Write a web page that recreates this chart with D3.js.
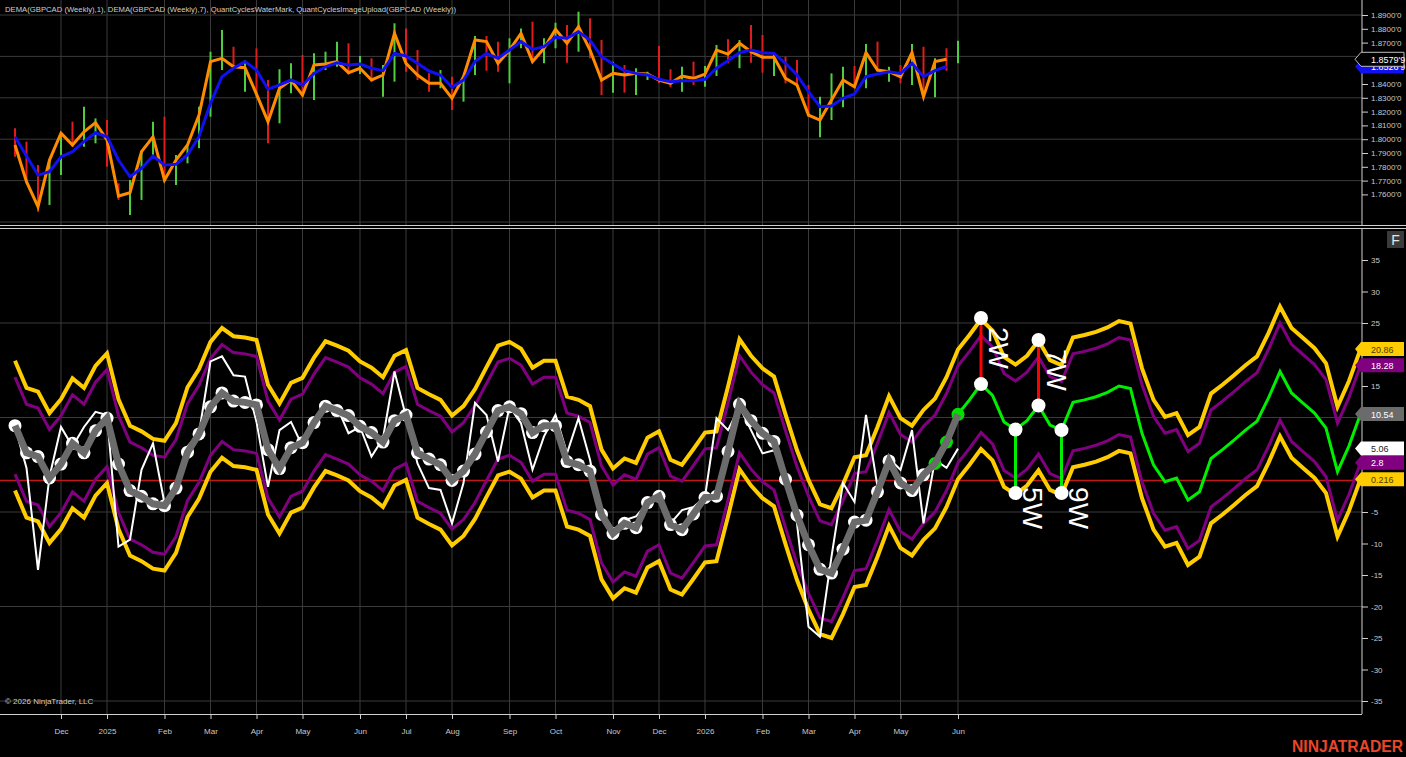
<!DOCTYPE html>
<html lang="en">
<head>
<meta charset="UTF-8">
<title>GBPCAD Weekly - QuantCycles</title>
<style>
  body { margin: 0; background: #000; }
  svg { display: block; font-family: "Liberation Sans", Arial, sans-serif; }
</style>
<script src="https://d3js.org/d3.v7.min.js"></script>
</head>
<body>
<svg width="1406" height="757"></svg>
<script>
// ---- x axis (weekly bars, index based) ----
const monthIdx = [4, 8, 13, 17, 21, 25, 30, 34, 38, 43, 47, 52, 56, 60, 65, 69, 73, 77, 82];
const monthLabels = ["Dec", "2025", "Feb", "Mar", "Apr", "May", "Jun", "Jul", "Aug", "Sep", "Oct", "Nov", "Dec", "2026", "Feb", "Mar", "Apr", "May", "Jun"];

// ---- price panel ----
const priceTicks = [1.89, 1.88, 1.87, 1.86, 1.85, 1.84, 1.83, 1.82, 1.81, 1.80, 1.79, 1.78, 1.77, 1.76];
const priceGrid = [1.89, 1.86, 1.83, 1.80, 1.77, 1.74];

const highs = [1.8079, 1.7982, 1.7813, 1.7849, 1.8043, 1.8127, 1.8236, 1.8151, 1.8139, 1.7680,
  1.7704, 1.7910, 1.8127, 1.8163, 1.7885, 1.7958, 1.8236, 1.8634, 1.8791, 1.8670,
  1.8574, 1.8658, 1.8429, 1.8507, 1.8550, 1.8610, 1.8622, 1.8634, 1.8707, 1.8695,
  1.8603, 1.8586, 1.8538, 1.8840, 1.8803, 1.8646, 1.8477, 1.8501, 1.8453, 1.8460,
  1.8748, 1.8748, 1.8707, 1.8731, 1.8803, 1.8851, 1.8731, 1.8844, 1.8828, 1.8924,
  1.8876, 1.8719, 1.8562, 1.8538, 1.8514, 1.8489, 1.8675, 1.8507, 1.8525, 1.8562,
  1.8530, 1.8683, 1.8724, 1.8719, 1.8828, 1.8755, 1.8622, 1.8598, 1.8574, 1.8393,
  1.8308, 1.8477, 1.8525, 1.8530, 1.8690, 1.8707, 1.8525, 1.8538, 1.8690, 1.8670,
  1.8586, 1.8659, 1.8714];
const lows = [1.7873, 1.7680, 1.7475, 1.7523, 1.7740, 1.7946, 1.7946, 1.7970, 1.7801, 1.7560,
  1.7450, 1.7560, 1.7885, 1.7690, 1.7668, 1.7825, 1.7934, 1.8163, 1.8501, 1.8525,
  1.8344, 1.8300, 1.7970, 1.8115, 1.8333, 1.8308, 1.8284, 1.8501, 1.8525, 1.8470,
  1.8472, 1.8417, 1.8308, 1.8417, 1.8489, 1.8429, 1.8344, 1.8369, 1.8212, 1.8272,
  1.8465, 1.8496, 1.8489, 1.8405, 1.8659, 1.8562, 1.8550, 1.8659, 1.8554, 1.8634,
  1.8586, 1.8320, 1.8337, 1.8337, 1.8320, 1.8429, 1.8405, 1.8376, 1.8344, 1.8393,
  1.8380, 1.8458, 1.8550, 1.8514, 1.8554, 1.8482, 1.8458, 1.8405, 1.8376, 1.8160,
  1.8014, 1.8139, 1.8231, 1.8376, 1.8369, 1.8489, 1.8417, 1.8405, 1.8393, 1.8308,
  1.8304, 1.8496, 1.8550];
// U = up bar (green), d = down bar (red)
const barDir = ("dddUUdUUdd" + "UUUdUUUUUd" + "UddUUdUUUd" + "UdUUdddUdU" + "UddUUdUUdU" +
  "ddUdUUddUd" + "UUdUddUddd" + "UUUdUdUdUd" + "UdU").split("");
const dema1 = [1.7958, 1.7692, 1.7511, 1.7849, 1.8043, 1.7958, 1.8054, 1.8120, 1.7994, 1.7588,
  1.7612, 1.7910, 1.8018, 1.7704, 1.7849, 1.7958, 1.8175, 1.8562, 1.8586, 1.8525,
  1.8518, 1.8326, 1.8127, 1.8369, 1.8429, 1.8320, 1.8538, 1.8545, 1.8562, 1.8482,
  1.8514, 1.8429, 1.8465, 1.8767, 1.8550, 1.8465, 1.8405, 1.8405, 1.8296, 1.8453,
  1.8719, 1.8707, 1.8550, 1.8646, 1.8767, 1.8562, 1.8659, 1.8796, 1.8695, 1.8815,
  1.8646, 1.8429, 1.8477, 1.8465, 1.8477, 1.8472, 1.8429, 1.8405, 1.8458, 1.8441,
  1.8472, 1.8646, 1.8617, 1.8695, 1.8634, 1.8593, 1.8593, 1.8441, 1.8393, 1.8175,
  1.8139, 1.8284, 1.8429, 1.8380, 1.8627, 1.8501, 1.8489, 1.8453, 1.8627, 1.8308,
  1.8562, 1.8579];
const dema7 = [1.8018, 1.7878, 1.7740, 1.7765, 1.7873, 1.7910, 1.7982, 1.8047, 1.8018, 1.7849,
  1.7728, 1.7789, 1.7878, 1.7813, 1.7818, 1.7886, 1.8018, 1.8260, 1.8453, 1.8514,
  1.8562, 1.8501, 1.8362, 1.8393, 1.8429, 1.8393, 1.8477, 1.8525, 1.8554, 1.8538,
  1.8545, 1.8514, 1.8497, 1.8622, 1.8603, 1.8550, 1.8494, 1.8465, 1.8376, 1.8429,
  1.8562, 1.8622, 1.8586, 1.8646, 1.8707, 1.8651, 1.8670, 1.8738, 1.8731, 1.8779,
  1.8719, 1.8598, 1.8545, 1.8497, 1.8477, 1.8465, 1.8434, 1.8417, 1.8424, 1.8424,
  1.8434, 1.8514, 1.8569, 1.8627, 1.8646, 1.8627, 1.8622, 1.8550, 1.8465, 1.8344,
  1.8236, 1.8241, 1.8296, 1.8328, 1.8453, 1.8472, 1.8489, 1.8477, 1.8550, 1.8453,
  1.8497, 1.8527];
const lastClose = { value: 1.8579, label: "1.8579'9" };
const lastDema7 = { value: 1.8527, label: "1.8526'9" };

// ---- cycle panel ----
const oscTicks = [35, 30, 25, 20, 15, 10, 5, 0, -5, -10, -15, -20, -25, -30, -35];
const oscGrid = [25, 10, -5, -20, -35];

// raw cycle (white)
const rawCycle = [8.5, 2.0, -14.2, 0.6, 8.5, 5.4, 8.5, 10.9, 10.4, -10.5,
  -9.4, 1.7, 5.9, -3.6, -1.5, 5.4, 7.5, 18.9, 19.7, 16.7,
  16.5, 9.3, -1.0, 8.0, 9.3, 5.4, 8.8, 12.3, 11.7, 7.5,
  8.5, 3.8, 6.7, 17.3, 10.1, 2.7, -1.2, -1.5, -6.8, -0.4,
  12.3, 10.4, 3.0, 11.7, 9.1, 1.7, 7.0, 10.4, 4.3, 9.9,
  3.3, -5.7, -7.9, -6.3, -5.7, -3.6, -2.6, -6.8, -4.7, -4.2,
  -2.6, 9.9, 8.0, 11.7, 8.0, 4.3, 4.8, 0.6, -6.8, -23.2,
  -24.8, -12.1, -0.4, -3.4, 10.4, -1.0, 3.5, 1.7, 8.0, -6.8,
  3.25, 2.0, 5.06];

// smoothed cycle (grey history, green projection from bar 80)
const cycleLine = [8.7, 4.4, 3.8, 0.4, 2.6, 5.9, 4.4, 7.9, 9.9, 2.6,
  -1.6, -2.5, -3.7, -4.0, -1.2, 4.5, 7.4, 11.7, 13.9, 12.6,
  12.4, 12.0, 4.9, 1.9, 5.2, 6.0, 9.2, 11.8, 11.1, 10.3,
  8.6, 7.6, 6.1, 9.5, 10.4, 4.4, 3.4, 2.5, 0.0, 1.5,
  4.2, 7.7, 11.1, 11.7, 10.6, 7.6, 8.7, 8.7, 3.0, 2.5,
  1.5, -5.4, -8.4, -6.8, -7.5, -3.5, -2.5, -7.0, -7.8, -5.3,
  -2.7, -2.5, 4.6, 12.1, 9.5, 7.5, 6.2, 0.2, -5.5, -10.2,
  -14.1, -14.7, -10.9, -6.6, -6.3, -1.8, 3.1, -0.4, -1.6, 0.9,
  2.7, 6.1, 10.5, 12.8, 15.3, 13.5, 9.3, 8.1, 9.5, 11.9,
  8.8, 8.0, 12.4, 12.8, 13.3, 14.0, 15.0, 14.6, 7.5, 2.5,
  -0.2, 0.4, -3.1, -1.8, 3.5, 4.9, 6.4, 8.0, 9.4, 13.1,
  17.3, 13.9, 12.3, 10.7, 8.3, 1.4, 5.5, 10.54];
const historyEnd = 82;
const projectionStart = 80;

const outerUpper = [19.0, 14.7, 14.1, 10.7, 12.9, 16.2, 14.7, 18.2, 20.2, 12.9,
  8.7, 7.8, 6.6, 6.3, 9.1, 14.8, 17.7, 22.0, 24.2, 22.9,
  22.7, 22.3, 15.2, 12.2, 15.5, 16.3, 19.5, 22.1, 21.4, 20.6,
  18.9, 17.9, 16.4, 19.8, 20.7, 14.7, 13.7, 12.8, 10.3, 11.8,
  14.5, 18.0, 21.4, 22.0, 20.9, 17.9, 19.0, 19.0, 13.3, 12.8,
  11.8, 4.9, 1.9, 3.5, 2.8, 6.8, 7.8, 3.3, 2.5, 5.0,
  7.6, 7.8, 14.9, 22.4, 19.8, 17.8, 16.5, 10.5, 4.8, 0.1,
  -3.8, -4.4, -0.6, 3.7, 4.0, 8.5, 13.4, 9.9, 8.7, 11.2,
  13.0, 16.4, 20.8, 23.1, 25.6, 23.8, 19.6, 18.4, 19.8, 22.2,
  19.1, 18.3, 22.7, 23.1, 23.6, 24.3, 25.3, 24.9, 17.8, 12.8,
  10.1, 10.7, 7.2, 8.5, 13.8, 15.2, 16.7, 18.3, 19.7, 23.4,
  27.6, 24.2, 22.6, 21.0, 18.6, 11.7, 15.8, 20.86];
const innerUpper = [16.4, 12.1, 11.5, 8.1, 10.3, 13.6, 12.1, 15.6, 17.6, 10.3,
  6.1, 5.2, 4.0, 3.7, 6.5, 12.2, 15.1, 19.4, 21.6, 20.3,
  20.1, 19.7, 12.6, 9.6, 12.9, 13.7, 16.9, 19.5, 18.8, 18.0,
  16.3, 15.3, 13.8, 17.2, 18.1, 12.1, 11.1, 10.2, 7.7, 9.2,
  11.9, 15.4, 18.8, 19.4, 18.3, 15.3, 16.4, 16.4, 10.7, 10.2,
  9.2, 2.3, -0.7, 0.9, 0.2, 4.2, 5.2, 0.7, -0.1, 2.4,
  5.0, 5.2, 12.3, 19.8, 17.2, 15.2, 13.9, 7.9, 2.2, -2.5,
  -6.4, -7.0, -3.2, 1.1, 1.4, 5.9, 10.8, 7.3, 6.1, 8.6,
  10.4, 13.8, 18.2, 20.5, 23.0, 21.2, 17.0, 15.8, 17.2, 19.6,
  16.5, 15.7, 20.1, 20.5, 21.0, 21.7, 22.7, 22.3, 15.2, 10.2,
  7.5, 8.1, 4.6, 5.9, 11.2, 12.6, 14.1, 15.7, 17.1, 20.8,
  25.0, 21.6, 20.0, 18.4, 16.0, 9.1, 13.2, 18.28];
const innerLower = [1.0, -3.3, -3.9, -7.3, -5.1, -1.8, -3.3, 0.2, 2.2, -5.1,
  -9.3, -10.2, -11.4, -11.7, -8.9, -3.2, -0.3, 4.0, 6.2, 4.9,
  4.7, 4.3, -2.8, -5.8, -2.5, -1.7, 1.5, 4.1, 3.4, 2.6,
  0.9, -0.1, -1.6, 1.8, 2.7, -3.3, -4.3, -5.2, -7.7, -6.2,
  -3.5, 0.0, 3.4, 4.0, 2.9, -0.1, 1.0, 1.0, -4.7, -5.2,
  -6.2, -13.1, -16.1, -14.5, -15.2, -11.2, -10.2, -14.7, -15.5, -13.0,
  -10.4, -10.2, -3.1, 4.4, 1.8, -0.2, -1.5, -7.5, -13.2, -17.9,
  -21.8, -22.4, -18.6, -14.3, -14.0, -9.5, -4.6, -8.1, -9.3, -6.8,
  -5.0, -1.6, 2.8, 5.1, 7.6, 5.8, 1.6, 0.4, 1.8, 4.2,
  1.1, 0.3, 4.7, 5.1, 5.6, 6.3, 7.3, 6.9, -0.2, -5.2,
  -7.9, -7.3, -10.8, -9.5, -4.2, -2.8, -1.3, 0.3, 1.7, 5.4,
  9.6, 6.2, 4.6, 3.0, 0.6, -6.3, -2.2, 2.8];
const outerLower = [-1.6, -5.9, -6.5, -9.9, -7.7, -4.4, -5.9, -2.4, -0.4, -7.7,
  -11.9, -12.8, -14.0, -14.3, -11.5, -5.8, -2.9, 1.4, 3.6, 2.3,
  2.1, 1.7, -5.4, -8.4, -5.1, -4.3, -1.1, 1.5, 0.8, 0.0,
  -1.7, -2.7, -4.2, -0.8, 0.1, -5.9, -6.9, -7.8, -10.3, -8.8,
  -6.1, -2.6, 0.8, 1.4, 0.3, -2.7, -1.6, -1.6, -7.3, -7.8,
  -8.8, -15.7, -18.7, -17.1, -17.8, -13.8, -12.8, -17.3, -18.1, -15.6,
  -13.0, -12.8, -5.7, 1.8, -0.8, -2.8, -4.1, -10.1, -15.8, -20.5,
  -24.4, -25.0, -21.2, -16.9, -16.6, -12.1, -7.2, -10.7, -11.9, -9.4,
  -7.6, -4.2, 0.2, 2.5, 5.0, 3.2, -1.0, -2.2, -0.8, 1.6,
  -1.5, -2.3, 2.1, 2.5, 3.0, 3.7, 4.7, 4.3, -2.8, -7.8,
  -10.5, -9.9, -13.4, -12.1, -6.8, -5.4, -3.9, -2.3, -0.9, 2.8,
  7.0, 3.6, 2.0, 0.4, -2.0, -8.9, -4.8, 0.216];

// projected cycle turns
const cycleNames = ["2W", "7W", "5W", "9W"];
const cycleBars = [84, 89, 87, 91];
const cycleFrom = [25.8, 22.3, 8.1, 8.0];
const cycleTo = [15.3, 11.9, -2.0, -2.0];
const cycleKind = ["top", "top", "bottom", "bottom"];

// last-value markers on the right axis
const markerValues = [20.86, 18.28, 10.54, 5.06, 2.8, 0.216];
const markerLabels = ["20.86", "18.28", "10.54", "5.06", "2.8", "0.216"];
const markerFill = ["#ffcc00", "#800080", "#6b6b6b", "#ffffff", "#800080", "#ffcc00"];
const markerText = ["#4a3a00", "#ffffff", "#ffffff", "#222222", "#ffffff", "#4a3a00"];

// ---- layout ----
const W = 1406, axisX = 1362;
const panelTop = { y0: 0, y1: 225 }, panelBot = { y0: 229, y1: 714 };

const svg = d3.select("svg");
svg.append("rect").attr("width", W).attr("height", 757).attr("fill", "#000");

const x = d3.scaleLinear().domain([0, 117]).range([15, 1360.5]);
const yP = d3.scaleLinear().domain([1.89, 1.76]).range([15, 194.4]);
const yO = d3.scaleLinear().domain([35, -35]).range([260, 701]);

const defs = svg.append("defs");
defs.append("clipPath").attr("id", "clipTop").append("rect")
  .attr("x", 0).attr("y", panelTop.y0).attr("width", axisX).attr("height", panelTop.y1 - panelTop.y0);
defs.append("clipPath").attr("id", "clipBot").append("rect")
  .attr("x", 0).attr("y", panelBot.y0).attr("width", axisX).attr("height", panelBot.y1 - panelBot.y0);

const gridColor = "#3a3a3a";

// grids
const gTop = svg.append("g").attr("clip-path", "url(#clipTop)");
const gBot = svg.append("g").attr("clip-path", "url(#clipBot)");

[[gTop, panelTop], [gBot, panelBot]].forEach(([g, p]) => {
  g.selectAll("line.vgrid").data(monthIdx).enter().append("line")
    .attr("class", "vgrid")
    .attr("x1", d => x(d)).attr("x2", d => x(d))
    .attr("y1", p.y0).attr("y2", p.y1)
    .attr("stroke", gridColor).attr("stroke-width", 1);
});
gTop.selectAll("line.hgrid").data(priceGrid).enter().append("line")
  .attr("x1", 0).attr("x2", axisX)
  .attr("y1", d => yP(d)).attr("y2", d => yP(d))
  .attr("stroke", gridColor);
gBot.selectAll("line.hgrid").data(oscGrid).enter().append("line")
  .attr("x1", 0).attr("x2", axisX)
  .attr("y1", d => yO(d)).attr("y2", d => yO(d))
  .attr("stroke", gridColor);

// ---- price bars and DEMA lines ----
gTop.selectAll("line.bar").data(highs).enter().append("line")
  .attr("x1", (d, i) => x(i)).attr("x2", (d, i) => x(i))
  .attr("y1", d => yP(d)).attr("y2", (d, i) => yP(lows[i]))
  .attr("stroke", (d, i) => barDir[i] === "U" ? "#4fcf3f" : "#e01c1c")
  .attr("stroke-width", 2);

const priceLine = d3.line().x((d, i) => x(i)).y(d => yP(d));
gTop.append("path").datum(dema1).attr("d", priceLine)
  .attr("fill", "none").attr("stroke", "#ff8c00").attr("stroke-width", 3);
gTop.append("path").datum(dema7).attr("d", priceLine)
  .attr("fill", "none").attr("stroke", "#1010f0").attr("stroke-width", 3);

// ---- cycle panel ----
gBot.append("line")
  .attr("x1", 0).attr("x2", axisX).attr("y1", yO(0)).attr("y2", yO(0))
  .attr("stroke", "#c01818").attr("stroke-width", 1.5);

const oscLine = d3.line().x((d, i) => x(i)).y(d => yO(d));
[[outerUpper, "#ffcc00", 4], [outerLower, "#ffcc00", 4],
 [innerUpper, "#800080", 3], [innerLower, "#800080", 3]].forEach(([arr, c, w]) => {
  gBot.append("path").datum(arr).attr("d", oscLine)
    .attr("fill", "none").attr("stroke", c).attr("stroke-width", w);
});

gBot.append("path").datum(rawCycle).attr("d", oscLine)
  .attr("fill", "none").attr("stroke", "#ffffff").attr("stroke-width", 2);

// projection (green)
const projIdx = d3.range(projectionStart, cycleLine.length);
gBot.append("path").datum(projIdx)
  .attr("d", d3.line().x(i => x(i)).y(i => yO(cycleLine[i])))
  .attr("fill", "none").attr("stroke", "#00ee00").attr("stroke-width", 3);

// cycle turn sticks
gBot.selectAll("line.turn").data(cycleBars).enter().append("line")
  .attr("x1", d => x(d)).attr("x2", d => x(d))
  .attr("y1", (d, i) => yO(cycleFrom[i])).attr("y2", (d, i) => yO(cycleTo[i]))
  .attr("stroke", (d, i) => cycleKind[i] === "top" ? "#ff0000" : "#00ee00")
  .attr("stroke-width", 3);

// history dots + grey line
const histIdx = d3.range(0, historyEnd + 1);
gBot.selectAll("circle.hist").data(histIdx).enter().append("circle")
  .attr("cx", i => x(i)).attr("cy", i => yO(cycleLine[i])).attr("r", 6.5)
  .attr("fill", i => i >= projectionStart ? "#00e000" : "#ffffff");
gBot.append("path").datum(histIdx)
  .attr("d", d3.line().x(i => x(i)).y(i => yO(cycleLine[i])))
  .attr("fill", "none").attr("stroke", "#6b6b6b").attr("stroke-width", 7);

// turn end dots + rotated labels
cycleBars.forEach((b, i) => {
  [cycleFrom[i], cycleTo[i]].forEach(v => {
    gBot.append("circle").attr("cx", x(b)).attr("cy", yO(v)).attr("r", 7).attr("fill", "#ffffff");
  });
  const isTop = cycleKind[i] === "top";
  const tx = x(b) + (isTop ? 8 : 7);
  const ty = isTop ? yO(cycleFrom[i]) + 9 : yO(cycleTo[i]) - 6;
  svg.append("text")
    .attr("transform", `translate(${tx},${ty}) rotate(90)`)
    .attr("fill", "#ffffff").attr("font-size", 28)
    .text(cycleNames[i]);
});

// ---- axes ----
const fgAxis = "#c8c8c8";
svg.append("line").attr("x1", axisX).attr("x2", axisX).attr("y1", 0).attr("y2", panelTop.y1)
  .attr("stroke", "#d0d0d0");
svg.append("line").attr("x1", axisX).attr("x2", axisX).attr("y1", panelBot.y0).attr("y2", panelBot.y1)
  .attr("stroke", "#d0d0d0");
svg.append("line").attr("x1", 0).attr("x2", W).attr("y1", 225.5).attr("y2", 225.5).attr("stroke", "#cfcfcf");
svg.append("line").attr("x1", 0).attr("x2", W).attr("y1", 228.5).attr("y2", 228.5).attr("stroke", "#cfcfcf");
svg.append("line").attr("x1", 0).attr("x2", axisX).attr("y1", panelBot.y1 + 0.5).attr("y2", panelBot.y1 + 0.5).attr("stroke", "#d0d0d0");

// tick labels that sit under a value marker are not drawn (as on the platform)
const topMarkerY = [yP(lastClose.value), yP(lastDema7.value)];
const botMarkerY = markerValues.map(v => yO(v));
const hiddenBy = (ys, y) => ys.some(m => Math.abs(m - y) < 8);

const priceAxis = d3.axisRight(yP).tickValues(priceTicks).tickSize(6).tickPadding(3)
  .tickFormat(d => hiddenBy(topMarkerY, yP(d)) ? "" : d3.format(".4f")(d) + "'0");
const gpa = svg.append("g").attr("transform", `translate(${axisX},0)`).call(priceAxis);
const oscAxis = d3.axisRight(yO).tickValues(oscTicks).tickSize(6).tickPadding(3)
  .tickFormat(d => hiddenBy(botMarkerY, yO(d)) ? "" : String(d));
const goa = svg.append("g").attr("transform", `translate(${axisX},0)`).call(oscAxis);
const timeAxis = d3.axisBottom(x).tickValues(monthIdx).tickSize(5).tickPadding(9)
  .tickFormat((d, i) => monthLabels[i]);
const gta = svg.append("g").attr("transform", `translate(0,${panelBot.y1})`).call(timeAxis);
[gpa, goa, gta].forEach(g => {
  g.select(".domain").remove();
  g.selectAll(".tick line").attr("stroke", "#d0d0d0");
  g.selectAll(".tick text").attr("fill", fgAxis).attr("font-size", 8)
    .attr("font-family", "'Liberation Sans', Arial, sans-serif");
});

// ---- value markers ----
function flag(y, label, fill, textColor, stroke) {
  const g = svg.append("g");
  g.append("path")
    .attr("d", `M${axisX - 7},${y} L${axisX - 1},${y - 7} L1404,${y - 7} L1404,${y + 7} L${axisX - 1},${y + 7} Z`)
    .attr("fill", fill).attr("stroke", stroke || "none").attr("stroke-width", 1);
  g.append("text").attr("x", 1371).attr("y", y + 3.5)
    .attr("fill", textColor).attr("font-size", 9).text(label);
}
flag(yP(lastDema7.value), lastDema7.label, "#1010f0", "#ffffff");
flag(yP(lastClose.value), lastClose.label, "#000000", "#ffffff", "#bdbdbd");
markerValues.forEach((v, i) => flag(yO(v), markerLabels[i], markerFill[i], markerText[i]));

// ---- texts ----
svg.append("text").attr("x", 5).attr("y", 12).attr("fill", "#cfcfcf").attr("font-size", 8)
  .attr("textLength", 451).attr("lengthAdjust", "spacingAndGlyphs")
  .text("DEMA(GBPCAD (Weekly),1), DEMA(GBPCAD (Weekly),7), QuantCyclesWaterMark, QuantCyclesImageUpload(GBPCAD (Weekly))");
svg.append("text").attr("x", 5).attr("y", 704).attr("fill", "#cfcfcf").attr("font-size", 8)
  .text("© 2026 NinjaTrader, LLC");
svg.append("rect").attr("x", 1387).attr("y", 231).attr("width", 17).attr("height", 17).attr("fill", "#3a3a3a");
svg.append("text").attr("x", 1395.5).attr("y", 245).attr("text-anchor", "middle")
  .attr("fill", "#e6e6e6").attr("font-size", 14).text("F");
svg.append("text").attr("x", 1403).attr("y", 752).attr("text-anchor", "end")
  .attr("fill", "#e8472a").attr("font-size", 16).attr("font-weight", "bold")
  .attr("textLength", 111).attr("lengthAdjust", "spacingAndGlyphs")
  .text("NINJATRADER");
</script>
</body>
</html>
